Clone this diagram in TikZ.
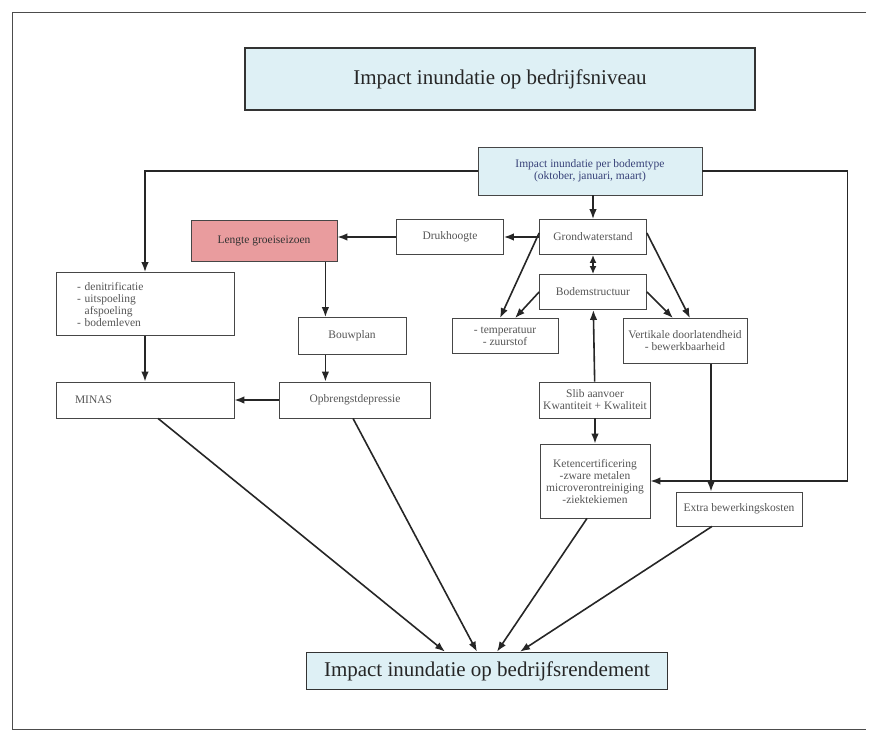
\documentclass[tikz,border=0pt]{standalone}
\usepackage{fontspec}
\setmainfont{Liberation Serif}
\usetikzlibrary{arrows.meta,positioning}
\definecolor{boxblue}{RGB}{222,240,245}
\definecolor{groeired}{RGB}{233,156,158}
\definecolor{bluetext}{RGB}{55,65,120}
\definecolor{labeltext}{RGB}{85,85,85}
\definecolor{boxline}{RGB}{70,70,70}

\begin{document}
\begin{tikzpicture}[x=1pt,y=-1pt,>={Latex[length=10pt,width=7.5pt]},line width=1.6pt,draw=black!85,
   box/.style={draw=boxline,line width=0.8pt,fill=white,text=labeltext,inner sep=0pt,
               font=\fontsize{11.5}{12}\selectfont,align=center},
   header/.style={draw=black!80,line width=1.6pt,fill=boxblue,inner sep=0pt,text=black!85,
               font=\fontsize{21}{24}\selectfont}]
   \useasboundingbox (0,0) rectangle (874,732);
   \draw[line width=1pt,black!70] (866,12) -- (12,12) -- (12,729) -- (866,729);

   \node[header,minimum width=510pt,minimum height=62pt] (niveau) at (500,79) {Impact inundatie op bedrijfsniveau};
   \node[box,fill=boxblue,text=bluetext,minimum width=224pt,minimum height=48pt] (bodemtype) at (590,171)
        {Impact inundatie per bodemtype\\(oktober, januari, maart)};
   \node[box,minimum width=107pt,minimum height=35pt] (grond) at (593,237) {Grondwaterstand};
   \node[box,minimum width=107pt,minimum height=35pt] (druk) at (450,237) {Drukhoogte};
   \node[box,fill=groeired,text=black!80,minimum width=146pt,minimum height=41pt] (groei) at (264,241) {Lengte groeiseizoen};
   \node[box,minimum width=107pt,minimum height=35pt] (structuur) at (593,292) {Bodemstructuur};
   \node[box,align=left,inner xsep=21pt,text width=136pt,minimum height=63pt] (bodemproc) at (145,304)
        {- denitrificatie\\- uitspoeling\\\phantom{-} afspoeling\\- bodemleven};
   \node[box,minimum width=108pt,minimum height=37pt] (bouwplan) at (352,336) {Bouwplan};
   \node[box,minimum width=106pt,minimum height=35pt] (temp) at (505,336) {- temperatuur\\- zuurstof};
   \node[box,minimum width=124pt,minimum height=45pt] (doorlaat) at (685,341) {Vertikale doorlatendheid\\- bewerkbaarheid};
   \node[box,align=left,inner xsep=19pt,text width=140pt,minimum height=36pt] (minas) at (145,400) {MINAS};
   \node[box,minimum width=151pt,minimum height=36pt] (opbrengst) at (355,400) {Opbrengstdepressie};
   \node[box,minimum width=111pt,minimum height=36pt] (slib) at (595,400) {Slib aanvoer\\Kwantiteit + Kwaliteit};
   \node[box,minimum width=110pt,minimum height=74pt] (keten) at (595,481)
        {Ketencertificering\\-zware metalen\\microverontreiniging\\-ziektekiemen};
   \node[box,minimum width=126pt,minimum height=34pt] (kosten) at (739,509) {Extra bewerkingskosten};
   \node[header,minimum width=361pt,minimum height=37pt] (rendement) at (487,671) {Impact inundatie op bedrijfsrendement};

   \draw[->] (bodemtype.west) -| (bodemproc.north);
   \draw[->] (bodemtype.east) -- ++(145,0) |- (keten.east);
   \path[->]
    (bodemtype.south -| grond.north) edge (grond.north)
    (grond) edge (druk)
    (druk.west) edge (druk.west -| groei.east)
    ([xshift=-12pt]groei.south east) edge ([xshift=-12pt]groei.south east |- bouwplan.north)
    ([xshift=-12pt]groei.south east |- bouwplan.south) edge ([xshift=-12pt]groei.south east |- opbrengst.north)
    (opbrengst) edge (minas)
    (bodemproc) edge (minas)
    (grond) edge [{Latex[length=8pt,width=7pt]}-{Latex[length=8pt,width=7pt]}] (structuur)
    ([yshift=4pt]grond.west) edge ([xshift=-5pt]temp.north)
    (structuur.west) edge ([xshift=10pt]temp.north)
    (structuur.east) edge ([xshift=-12pt]doorlaat.north)
    ([yshift=4pt]grond.east) edge ([xshift=5pt]doorlaat.north)
    (slib) edge (structuur)
    (slib) edge (keten)
    ([xshift=26pt]doorlaat.south) edge ([xshift=26pt]doorlaat.south |- kosten.north)
    ([xshift=13pt]minas.south) edge ([xshift=-42pt]rendement.north)
    ([xshift=-2pt]opbrengst.south) edge ([xshift=-10pt]rendement.north)
    ([xshift=-8pt]keten.south) edge ([xshift=10pt]rendement.north)
    ([xshift=-27pt]kosten.south) edge ([xshift=33pt]rendement.north);
\end{tikzpicture}
\end{document}
